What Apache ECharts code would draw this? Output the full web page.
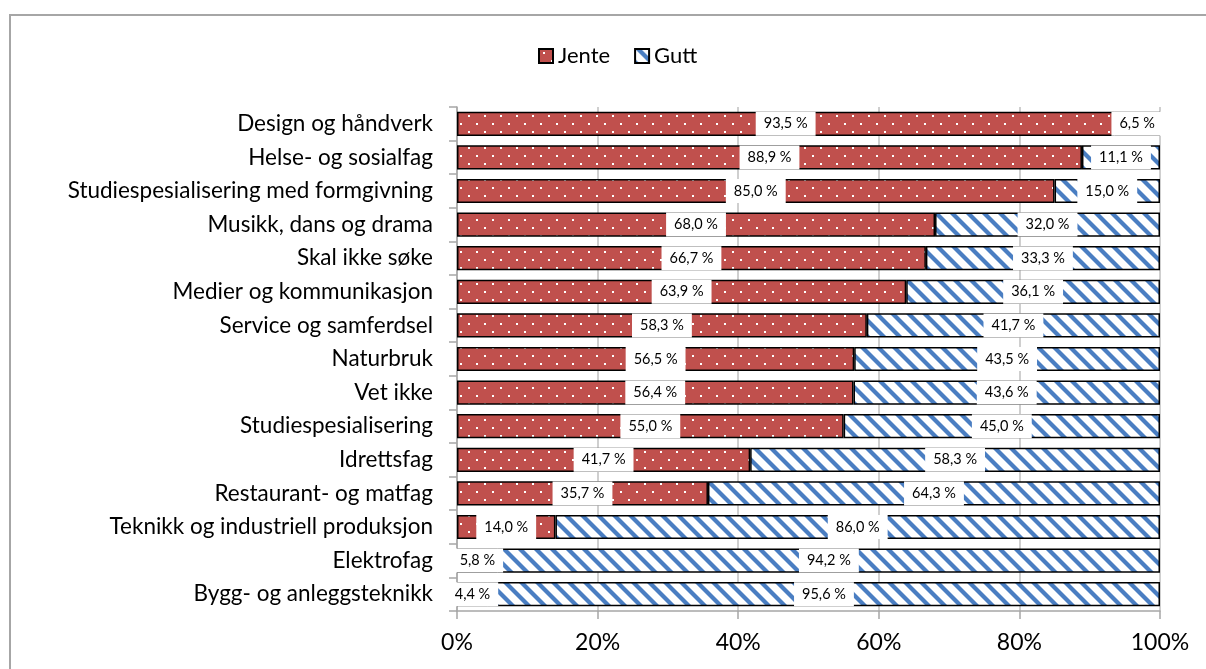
<!DOCTYPE html>
<html>
<head>
<meta charset="utf-8">
<script src="https://cdn.jsdelivr.net/npm/echarts@6/dist/echarts.min.js"></script>
<style>
html, body { margin: 0; padding: 0; background: #fff; }
#frame { position: absolute; left: 9px; top: 14px; width: 1300px; height: 800px; border: 2px solid #a6a6a6; }
#chart-container { position: absolute; left: 0; top: 0; width: 1206px; height: 669px; }
</style>
</head>
<body>
<div id="frame"></div>
<div id="chart-container"></div>
<script>
// kategorier (ovenfra og ned)
var categories = [
    'Design og håndverk',
    'Helse- og sosialfag',
    'Studiespesialisering med formgivning',
    'Musikk, dans og drama',
    'Skal ikke søke',
    'Medier og kommunikasjon',
    'Service og samferdsel',
    'Naturbruk',
    'Vet ikke',
    'Studiespesialisering',
    'Idrettsfag',
    'Restaurant- og matfag',
    'Teknikk og industriell produksjon',
    'Elektrofag',
    'Bygg- og anleggsteknikk'
];
var jente = [93.5, 88.9, 85.0, 68.0, 66.7, 63.9, 58.3, 56.5, 56.4, 55.0, 41.7, 35.7, 14.0, 5.8, 4.4];
var gutt = [6.5, 11.1, 15.0, 32.0, 33.3, 36.1, 41.7, 43.5, 43.6, 45.0, 58.3, 64.3, 86.0, 94.2, 95.6];
var xTicks = [0, 20, 40, 60, 80, 100];

// mønster: rød med hvite prikker
function dotPattern() {
    var c = document.createElement('canvas');
    c.width = 16; c.height = 16;
    var ctx = c.getContext('2d');
    ctx.fillStyle = '#C0504D';
    ctx.fillRect(0, 0, 16, 16);
    ctx.fillStyle = '#ffffff';
    ctx.fillRect(4, 3, 2, 2);
    ctx.fillRect(12, 11, 2, 2);
    return c;
}
// mønster: hvit med blå skråstriper
function stripePattern() {
    var c = document.createElement('canvas');
    c.width = 16; c.height = 16;
    var ctx = c.getContext('2d');
    ctx.fillStyle = '#ffffff';
    ctx.fillRect(0, 0, 16, 16);
    ctx.fillStyle = '#4A7EC2';
    [-16, 0, 16].forEach(function (k) {
        ctx.beginPath();
        ctx.moveTo(k, 0);
        ctx.lineTo(k + 6, 0);
        ctx.lineTo(k + 22, 16);
        ctx.lineTo(k + 16, 16);
        ctx.closePath();
        ctx.fill();
    });
    return c;
}

function fmt(p) {
    return p.value.toFixed(1).replace('.', ',') + ' %';
}

var labelStyle = {
    show: true,
    position: 'inside',
    formatter: fmt,
    color: '#000',
    fontFamily: 'Lato',
    fontSize: 14.5,
    backgroundColor: '#fff',
    padding: [5, 8],
    lineHeight: 14
};

var chart = echarts.init(document.getElementById('chart-container'));

var option = {
    animation: false,
    textStyle: { fontFamily: 'Lato' },
    legend: {
        left: 533,
        top: 40,
        icon: 'rect',
        itemWidth: 14,
        itemHeight: 14,
        itemGap: 24,
        textStyle: { fontSize: 22, color: '#000', fontFamily: 'Lato' },
        data: ['Jente', 'Gutt']
    },
    grid: {
        left: 457,
        right: 46,
        top: 107,
        bottom: 58
    },
    xAxis: {
        type: 'value',
        min: 0,
        max: 100,
        interval: 20,
        axisLabel: {
            formatter: function (v) { return xTicks.indexOf(v) >= 0 ? v + '%' : ''; },
            fontSize: 23,
            color: '#000',
            margin: 20
        },
        axisLine: { show: true, lineStyle: { color: '#a6a6a6', width: 1.5 } },
        axisTick: { show: true, length: 8, lineStyle: { color: '#a6a6a6', width: 1.5 } },
        splitLine: { show: true, lineStyle: { color: '#bfbfbf', width: 1.5 } }
    },
    yAxis: {
        type: 'category',
        inverse: true,
        data: categories,
        axisLabel: { fontSize: 22.5, color: '#000', margin: 24 },
        axisLine: { show: true, lineStyle: { color: '#a6a6a6', width: 1.5 } },
        axisTick: { show: true, length: 8, lineStyle: { color: '#a6a6a6', width: 1.5 } }
    },
    series: [{
            name: 'Jente',
            type: 'bar',
            stack: 'total',
            barWidth: '72%',
            data: jente,
            itemStyle: {
                color: { image: dotPattern(), repeat: 'repeat' },
                borderColor: '#000',
                borderWidth: 1.5
            },
            label: labelStyle
        },
        {
            name: 'Gutt',
            type: 'bar',
            stack: 'total',
            barWidth: '72%',
            data: gutt,
            itemStyle: {
                color: { image: stripePattern(), repeat: 'repeat' },
                borderColor: '#000',
                borderWidth: 1.5
            },
            label: labelStyle
        }
    ]
};

chart.setOption(option);

window.addEventListener('resize', function () {
    chart.resize();
});
</script>
</body>
</html>
